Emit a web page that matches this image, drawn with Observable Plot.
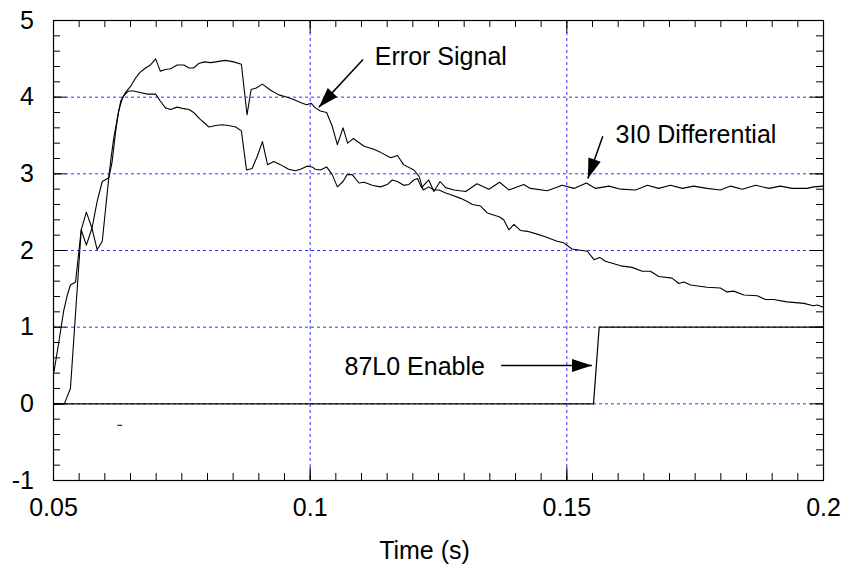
<!DOCTYPE html>
<html><head><meta charset="utf-8">
<script src="https://cdn.jsdelivr.net/npm/d3@7"></script>
<script src="https://cdn.jsdelivr.net/npm/@observablehq/plot@0.6"></script>
<style>body{margin:0;background:#fff} #chart{width:845px;height:569px}</style>
</head><body><div id="chart"></div>
<script>
// Error Signal: [time (s), value]
const errorSignal = [
[0.0501,0.42],[0.0510,0.79],[0.0520,1.22],[0.0527,1.42],[0.0533,1.55],[0.0543,1.59],[0.0554,2.27],
[0.0564,2.07],[0.0575,2.29],[0.0585,2.64],[0.0595,2.90],[0.0608,2.95],[0.0614,3.15],[0.0621,3.55],
[0.0627,3.82],[0.0634,3.98],[0.0640,4.06],[0.0650,4.14],[0.0660,4.25],[0.0668,4.32],[0.0679,4.38],
[0.0689,4.42],[0.0699,4.50],[0.0708,4.34],[0.0718,4.36],[0.0728,4.37],[0.0741,4.42],[0.0754,4.42],
[0.0764,4.38],[0.0773,4.38],[0.0783,4.44],[0.0794,4.46],[0.0806,4.45],[0.0816,4.46],[0.0825,4.47],
[0.0835,4.48],[0.0851,4.46],[0.0866,4.43],[0.0877,3.77],[0.0885,4.10],[0.0895,4.12],[0.0907,4.17],
[0.0923,4.09],[0.0939,4.03],[0.0955,4.00],[0.0968,3.97],[0.0981,3.93],[0.0993,3.90],[0.1002,3.92],
[0.1010,3.86],[0.1020,3.82],[0.1032,3.80],[0.1043,3.62],[0.1053,3.38],[0.1064,3.60],[0.1073,3.40],
[0.1084,3.46],[0.1105,3.36],[0.1124,3.32],[0.1137,3.28],[0.1157,3.21],[0.1170,3.24],[0.1182,3.12],
[0.1202,3.05],[0.1212,2.97],[0.1220,2.79],[0.1231,2.83],[0.1241,2.79],[0.1251,2.79],[0.1264,2.75],
[0.1273,2.73],[0.1293,2.68],[0.1306,2.64],[0.1316,2.60],[0.1332,2.58],[0.1345,2.49],[0.1368,2.44],
[0.1377,2.40],[0.1387,2.27],[0.1397,2.34],[0.1410,2.26],[0.1423,2.25],[0.1439,2.22],[0.1458,2.18],
[0.1481,2.12],[0.1494,2.10],[0.1510,2.02],[0.1540,1.99],[0.1553,1.88],[0.1564,1.91],[0.1575,1.86],
[0.1585,1.84],[0.1605,1.80],[0.1627,1.78],[0.1647,1.73],[0.1663,1.73],[0.1679,1.66],[0.1705,1.64],
[0.1718,1.57],[0.1728,1.59],[0.1741,1.55],[0.1773,1.52],[0.1799,1.51],[0.1812,1.46],[0.1825,1.47],
[0.1845,1.42],[0.1871,1.41],[0.1887,1.36],[0.1903,1.36],[0.1929,1.33],[0.1962,1.31],[0.1980,1.28],
[0.1988,1.29],[0.2000,1.26]
];
// 3I0 Differential: [time (s), value]
const differential = [
[0.0501,0.00],[0.0521,0.00],[0.0533,0.20],[0.0554,2.27],[0.0564,2.50],[0.0575,2.29],[0.0585,2.01],
[0.0595,2.12],[0.0608,2.97],[0.0612,3.20],[0.0617,3.45],[0.0625,3.75],[0.0631,3.95],[0.0637,4.02],
[0.0646,4.08],[0.0656,4.08],[0.0669,4.06],[0.0683,4.04],[0.0699,4.04],[0.0708,3.95],[0.0718,3.86],
[0.0728,3.84],[0.0741,3.87],[0.0754,3.85],[0.0764,3.84],[0.0773,3.80],[0.0786,3.71],[0.0793,3.67],
[0.0803,3.61],[0.0816,3.63],[0.0829,3.64],[0.0841,3.63],[0.0855,3.61],[0.0866,3.56],[0.0876,3.05],
[0.0887,3.07],[0.0897,3.23],[0.0907,3.42],[0.0917,3.12],[0.0929,3.16],[0.0942,3.12],[0.0958,3.06],
[0.0971,3.04],[0.0981,3.06],[0.0994,3.10],[0.1004,3.09],[0.1010,3.06],[0.1020,3.05],[0.1032,3.09],
[0.1043,2.99],[0.1053,2.83],[0.1064,2.90],[0.1072,2.99],[0.1082,2.99],[0.1095,2.88],[0.1105,2.89],
[0.1121,2.85],[0.1137,2.83],[0.1150,2.86],[0.1160,2.92],[0.1170,2.90],[0.1182,2.85],[0.1192,2.86],
[0.1202,2.92],[0.1209,2.94],[0.1217,2.82],[0.1231,2.92],[0.1241,2.77],[0.1253,2.90],[0.1264,2.82],
[0.1280,2.79],[0.1303,2.77],[0.1325,2.87],[0.1348,2.80],[0.1369,2.89],[0.1387,2.79],[0.1416,2.86],
[0.1429,2.81],[0.1462,2.78],[0.1491,2.85],[0.1514,2.81],[0.1538,2.88],[0.1556,2.81],[0.1582,2.84],
[0.1605,2.80],[0.1634,2.79],[0.1657,2.85],[0.1679,2.81],[0.1702,2.85],[0.1725,2.81],[0.1747,2.84],
[0.1773,2.81],[0.1799,2.79],[0.1819,2.84],[0.1842,2.80],[0.1868,2.85],[0.1894,2.81],[0.1916,2.84],
[0.1939,2.81],[0.1968,2.81],[0.1981,2.83],[0.2000,2.84]
];
// 87L0 Enable
const enable87L0 = [[0.05,0],[0.1552,0],[0.1563,1],[0.2,1]];
// stray mark in the original
const strayMark = [[0.0625,-0.28],[0.0633,-0.28]];

const xMajor = [0.05, 0.1, 0.15, 0.2];
const yMajor = [-1, 0, 1, 2, 3, 4, 5];
const xGrid = [0.1, 0.15];
const yGrid = [0, 1, 2, 3, 4];
const xMinor = d3.range(0.055, 0.2, 0.005);
const yMinor = d3.range(-0.8, 5, 0.2);
const axisTitle = ["Time (s)"];

const annotations = [
  {label: "Error Signal", x: 0.1126, y: 4.52, x1: 0.1103, y1: 4.49, x2: 0.1017, y2: 3.87},
  {label: "3I0 Differential", x: 0.1595, y: 3.51, x1: 0.1570, y1: 3.49, x2: 0.1541, y2: 2.94},
  {label: "87L0 Enable", x: 0.1067, y: 0.48, x1: 0.1372, y1: 0.50, x2: 0.1549, y2: 0.50}
];

const W = 845, H = 569, mL = 53, mR = 22, mT = 20, mB = 89;
const innerW = W - mL - mR, innerH = H - mT - mB;
const kx = innerW / 0.15, ky = innerH / 6;
const angle = d => Math.atan2((d.x2 - d.x1) * kx, (d.y2 - d.y1) * ky) * 180 / Math.PI;
const arrowHead = {draw(ctx) { ctx.moveTo(0, 0); ctx.lineTo(-6.5, 20); ctx.lineTo(6.5, 20); ctx.closePath(); }};

const FS = 25;
const blue = "#3030ff";

const chart = Plot.plot({
  width: W, height: H,
  marginLeft: mL, marginRight: mR, marginTop: mT, marginBottom: mB,
  style: {fontFamily: "'Liberation Sans', Arial, sans-serif", fontSize: FS + "px", background: "white", color: "black"},
  x: {domain: [0.05, 0.2], axis: null},
  y: {domain: [-1, 5], axis: null},
  marks: [
    Plot.ruleX(xGrid, {x: d => d, stroke: blue, strokeDasharray: "3,3", strokeWidth: 1}),
    Plot.ruleY(yGrid, {y: d => d, stroke: blue, strokeDasharray: "3,3", strokeWidth: 1}),
    Plot.tickX(xMinor, {x: d => d, insetBottom: innerH - 7, stroke: "black"}),
    Plot.tickX(xMinor, {x: d => d, insetTop: innerH - 7, stroke: "black"}),
    Plot.tickX(xMajor, {x: d => d, insetBottom: innerH - 13, stroke: "black"}),
    Plot.tickX(xMajor, {x: d => d, insetTop: innerH - 13, stroke: "black"}),
    Plot.tickY(yMinor, {y: d => d, insetRight: innerW - 7, stroke: "black"}),
    Plot.tickY(yMinor, {y: d => d, insetLeft: innerW - 7, stroke: "black"}),
    Plot.tickY(yMajor, {y: d => d, insetRight: innerW - 13, stroke: "black"}),
    Plot.tickY(yMajor, {y: d => d, insetLeft: innerW - 13, stroke: "black"}),
    Plot.line(enable87L0, {x: d => d[0], y: d => d[1], stroke: "black", strokeWidth: 1.2}),
    Plot.line(errorSignal, {x: d => d[0], y: d => d[1], stroke: "black", strokeWidth: 1.1}),
    Plot.line(differential, {x: d => d[0], y: d => d[1], stroke: "black", strokeWidth: 1.1}),
    Plot.line(strayMark, {x: d => d[0], y: d => d[1], stroke: "black", strokeWidth: 1}),
    Plot.frame({stroke: "black", strokeWidth: 1.2}),
    Plot.link(annotations, {x1: "x1", y1: "y1", x2: "x2", y2: "y2", stroke: "black", strokeWidth: 1.5}),
    Plot.dot(annotations, {x: "x2", y: "y2", symbol: arrowHead, rotate: angle, fill: "black", stroke: "none"}),
    Plot.text(annotations, {x: "x", y: "y", text: "label", textAnchor: "start", lineAnchor: "middle", fontSize: FS, fill: "black"}),
    Plot.text(xMajor, {x: d => d, frameAnchor: "bottom", dy: 27.5, text: d => String(d), lineAnchor: "middle", fontSize: FS, fill: "black"}),
    Plot.text(yMajor, {y: d => d, frameAnchor: "left", dx: -19.5, text: d => String(d), textAnchor: "end", lineAnchor: "middle", fontSize: FS, fill: "black"}),
    Plot.text(axisTitle, {frameAnchor: "bottom", dx: -14, dy: 70, lineAnchor: "middle", fontSize: FS, fill: "black"})
  ]
});
document.getElementById("chart").appendChild(chart);
</script>
</body></html>
